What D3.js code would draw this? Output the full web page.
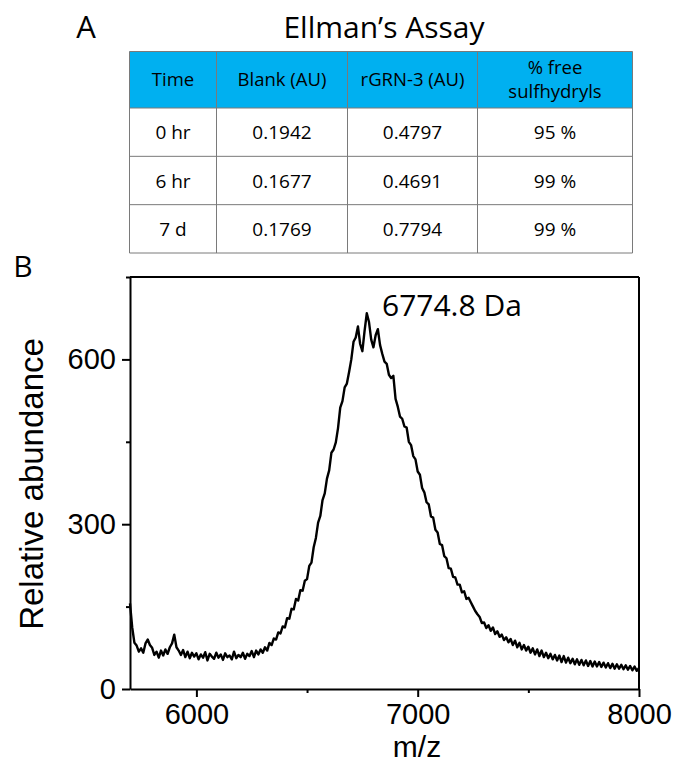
<!DOCTYPE html>
<html>
<head>
<meta charset="utf-8">
<script src="https://cdn.jsdelivr.net/npm/d3@7"></script>
<style>
  body { margin: 0; background: #fff; }
  svg { display: block; }
</style>
</head>
<body>
<svg id="fig" width="678" height="766"></svg>
<script>
// ---- panel A: Ellman's assay table ----
const tableHeaders = [["Time"], ["Blank (AU)"], ["rGRN-3 (AU)"], ["% free", "sulfhydryls"]];
const timePoints = ["0 hr", "6 hr", "7 d"];
const blankAU = ["0.1942", "0.1677", "0.1769"];
const rgrnAU = ["0.4797", "0.4691", "0.7794"];
const freeSulfhydryls = ["95 %", "99 %", "99 %"];

// ---- panel B: mass spectrum (m/z from 5700, one value every 10) ----
const mzStart = 5700;
const mzStep = 10;
const abundance = [
  156, 112, 84, 79, 68, 74, 66, 83, 90, 80,
  75, 62, 68, 57, 70, 61, 72, 64, 76, 83,
  99, 76, 70, 62, 71, 58, 68, 56, 66, 59,
  65, 54, 63, 57, 67, 52, 64, 59, 55, 66,
  57, 63, 53, 65, 58, 61, 54, 68, 56, 62,
  58, 66, 55, 64, 60, 69, 58, 70, 63, 72,
  66, 76, 70, 84, 80, 92, 90, 103, 101, 114,
  112, 129, 128, 146, 145, 164, 161, 180, 179, 197,
  200, 224, 230, 258, 275, 303, 315, 344, 356, 383,
  398, 430, 436, 449, 475, 512, 524, 549, 556, 577,
  600, 632, 640, 660, 628, 615, 652, 684, 668, 636,
  622, 644, 655, 626, 610, 596, 592, 572, 566, 570,
  528, 514, 496, 492, 478, 476, 450, 444, 424, 418,
  396, 390, 366, 358, 340, 336, 314, 312, 290, 285,
  264, 262, 242, 238, 220, 219, 204, 203, 190, 190,
  176, 178, 164, 166, 158, 150, 142, 136, 131, 120,
  121, 111, 116, 106, 112, 100, 105, 95, 99, 89,
  94, 85, 91, 80, 88, 76, 84, 72, 80, 70,
  77, 66, 74, 63, 72, 60, 70, 58, 66, 56,
  64, 54, 62, 52, 61, 49, 60, 48, 57, 47,
  55, 45, 54, 44, 53, 43, 52, 42, 51, 41,
  50, 41, 49, 40, 48, 39, 47, 38, 46, 37,
  45, 37, 44, 36, 43, 35, 42, 34, 41, 33,
  38
];
const xMajorTicks = [6000, 7000, 8000];
const xMinorTicks = [6500, 7500];
const yMajorTicks = [0, 300, 600];
const yMinorTicks = [150, 450, 750];
const peakLabel = "6774.8 Da";

const svg = d3.select("#fig");
const sansCal = "'Open Sans', Lato, sans-serif";
const sansAr = "'Liberation Sans', Arial, sans-serif";

// ---------------- table ----------------
svg.append("text").attr("x", 86).attr("y", 38).attr("text-anchor", "middle")
  .style("font-family", sansCal).style("font-size", "31px").text("A");
svg.append("text").attr("x", 384).attr("y", 38).attr("text-anchor", "middle")
  .style("font-family", sansCal).style("font-size", "30px").text("Ellman\u2019s Assay");

const colEdges = [129.5, 216.5, 347.5, 477.5, 632.5];
const headTop = 51.5, headBottom = 108;
const rowY = d3.scaleBand().domain(timePoints).range([headBottom, 253]);

const tbl = svg.append("g");
tbl.append("rect").attr("x", colEdges[0]).attr("y", headTop)
  .attr("width", colEdges[4] - colEdges[0]).attr("height", headBottom - headTop)
  .attr("fill", "#00b0f0");

const rows = timePoints.map((t, i) => [t, blankAU[i], rgrnAU[i], freeSulfhydryls[i]]);

tableHeaders.forEach((lines, c) => {
  const cx = (colEdges[c] + colEdges[c + 1]) / 2;
  const cy = (headTop + headBottom) / 2;
  const t = tbl.append("text").attr("x", cx).attr("text-anchor", "middle")
    .style("font-family", sansCal).style("font-size", "18.5px");
  lines.forEach((ln, k) => {
    t.append("tspan").attr("x", cx)
      .attr("y", cy + (k - (lines.length - 1) / 2) * 24 + 6.5).text(ln);
  });
});

rows.forEach((r, i) => {
  r.forEach((v, c) => {
    tbl.append("text")
      .attr("x", (colEdges[c] + colEdges[c + 1]) / 2)
      .attr("y", rowY(timePoints[i]) + rowY.bandwidth() / 2 + 7)
      .attr("text-anchor", "middle")
      .style("font-family", sansCal).style("font-size", "19px").text(v);
  });
});

// grid lines
const hLines = [headTop, headBottom].concat(timePoints.map(t => rowY(t) + rowY.bandwidth()));
tbl.selectAll(".hl").data(hLines).enter().append("line")
  .attr("x1", colEdges[0]).attr("x2", colEdges[4])
  .attr("y1", d => d).attr("y2", d => d)
  .attr("stroke", "#7a7a7a").attr("stroke-width", 1);
tbl.selectAll(".vl").data(colEdges).enter().append("line")
  .attr("x1", d => d).attr("x2", d => d)
  .attr("y1", headTop).attr("y2", 253)
  .attr("stroke", "#7a7a7a").attr("stroke-width", 1);

// ---------------- spectrum ----------------
svg.append("text").attr("x", 23).attr("y", 277).attr("text-anchor", "middle")
  .style("font-family", sansCal).style("font-size", "30px").text("B");

const plotL = 130, plotR = 639, plotT = 277, plotB = 689;
const x = d3.scaleLinear().domain([5700, 8000]).range([plotL, plotR]);
const y = d3.scaleLinear().domain([0, 750]).range([plotB, plotT]);

const spectrum = abundance.map((v, i) => ({ mz: mzStart + i * mzStep, v }));

svg.append("path")
  .datum(spectrum)
  .attr("fill", "none")
  .attr("stroke", "#000")
  .attr("stroke-width", 2.4)
  .attr("stroke-linejoin", "round")
  .attr("d", d3.line().x(d => x(d.mz)).y(d => y(d.v)));

// frame
svg.append("line").attr("x1", plotL).attr("x2", plotR).attr("y1", plotT).attr("y2", plotT)
  .attr("stroke", "#000").attr("stroke-width", 2);
svg.append("line").attr("x1", plotR).attr("x2", plotR).attr("y1", plotT).attr("y2", plotB)
  .attr("stroke", "#000").attr("stroke-width", 2);

function styleAxis(g) {
  g.selectAll("path, line").attr("stroke", "#000").attr("stroke-width", 2);
  g.selectAll("text").attr("fill", "#000")
    .style("font-family", sansAr).style("font-size", "29px");
}

svg.append("g").attr("transform", `translate(${plotL},0)`)
  .call(d3.axisLeft(y).tickValues(yMinorTicks).tickSize(4).tickSizeOuter(0).tickFormat(""))
  .call(styleAxis);
svg.append("g").attr("transform", `translate(${plotL},0)`)
  .call(d3.axisLeft(y).tickValues(yMajorTicks).tickSize(8).tickSizeOuter(0).tickPadding(6))
  .call(styleAxis)
  .call(g => g.select(".domain").remove());

svg.append("g").attr("transform", `translate(0,${plotB})`)
  .call(d3.axisBottom(x).tickValues(xMinorTicks).tickSize(4).tickSizeOuter(0).tickFormat(""))
  .call(styleAxis);
svg.append("g").attr("transform", `translate(0,${plotB})`)
  .call(d3.axisBottom(x).tickValues(xMajorTicks).tickSize(8).tickSizeOuter(0).tickPadding(6).tickFormat(d3.format("d")))
  .call(styleAxis)
  .call(g => g.select(".domain").remove());

svg.append("text")
  .attr("transform", "rotate(-90)")
  .attr("x", -484).attr("y", 43)
  .attr("text-anchor", "middle")
  .style("font-family", sansAr).style("font-size", "33px")
  .text("Relative abundance");

svg.append("text").attr("x", 417).attr("y", 757).attr("text-anchor", "middle")
  .style("font-family", sansAr).style("font-size", "30px").text("m/z");

svg.append("text").attr("x", 382).attr("y", 316)
  .style("font-family", sansCal).style("font-size", "30px").text(peakLabel);
</script>
</body>
</html>
